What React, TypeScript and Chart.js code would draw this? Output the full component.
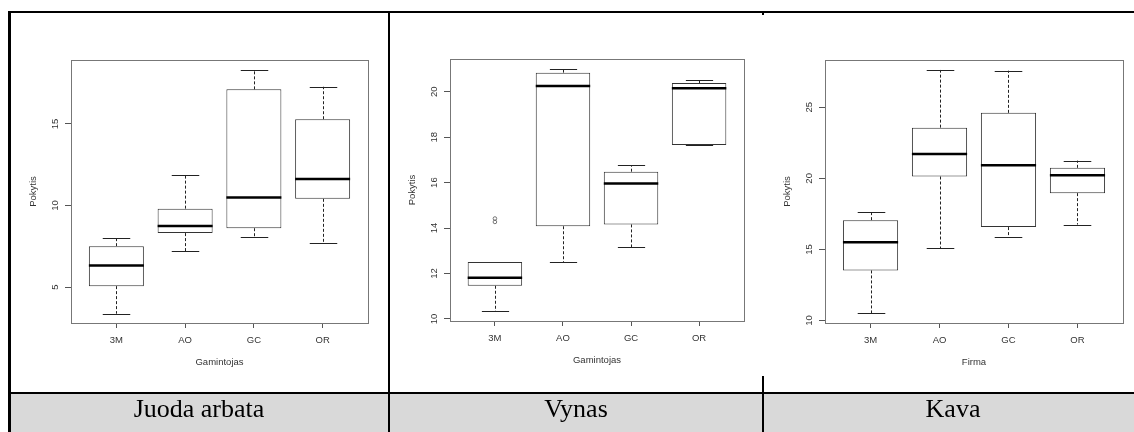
import React, { useEffect, useRef } from 'react';
import { Chart, registerables } from 'chart.js';

Chart.register(...registerables);

// ---------- data ----------
const categories = ['3M', 'AO', 'GC', 'OR'];
const categoryPositions = [1, 2, 3, 4];

// Juoda arbata
const teaWhiskerLow = [3.37, 7.2, 8.08, 7.71];
const teaQ1 = [5.06, 8.31, 8.61, 10.41];
const teaMedian = [6.32, 8.75, 10.49, 11.63];
const teaQ3 = [7.51, 9.81, 17.12, 15.29];
const teaWhiskerHigh = [7.98, 11.9, 18.29, 17.28];
const teaOutliers: number[][] = [[], [], [], []];
const teaYTicks = [5, 10, 15];

// Vynas
const wineWhiskerLow = [10.35, 12.49, 13.16, 17.65];
const wineQ1 = [11.46, 14.08, 14.16, 17.65];
const wineMedian = [11.81, 20.25, 15.96, 20.15];
const wineQ3 = [12.51, 20.84, 16.48, 20.38];
const wineWhiskerHigh = [12.51, 20.98, 16.77, 20.52];
const wineOutliers: number[][] = [[14.27, 14.42], [], [], []];
const wineYTicks = [10, 12, 14, 16, 18, 20];

// Kava
const coffeeWhiskerLow = [10.49, 15.09, 15.84, 16.75];
const coffeeQ1 = [13.52, 20.13, 16.57, 18.96];
const coffeeMedian = [15.51, 21.72, 20.93, 20.22];
const coffeeQ3 = [17.06, 23.57, 24.61, 20.74];
const coffeeWhiskerHigh = [17.64, 27.63, 27.58, 21.25];
const coffeeOutliers: number[][] = [[], [], [], []];
const coffeeYTicks = [10, 15, 20, 25];

const captions = ['Juoda arbata', 'Vynas', 'Kava'];
const xTitles = ['Gamintojas', 'Gamintojas', 'Firma'];
const yTitle = 'Pokytis';

// ---------- layout ----------
const AXW = 30;
const AXH = 30;
const TEXT_FONT = '9.5px "Liberation Sans", Arial, sans-serif';
const TEXT_COLOR = '#333';

type Spec = {
  low: number[];
  q1: number[];
  med: number[];
  q3: number[];
  high: number[];
  outliers: number[][];
  yTicks: number[];
  yMin: number;
  yMax: number;
  xTitle: string;
  canvas: { left: number; top: number; w: number; h: number };
  plot: { left: number; top: number; right: number; bottom: number };
};

const specs: Spec[] = [
  {
    low: teaWhiskerLow, q1: teaQ1, med: teaMedian, q3: teaQ3, high: teaWhiskerHigh,
    outliers: teaOutliers, yTicks: teaYTicks, yMin: 2.8, yMax: 18.92, xTitle: xTitles[0],
    canvas: { left: 10, top: 14, w: 378, h: 378 },
    plot: { left: 71, top: 60, right: 368, bottom: 323 },
  },
  {
    low: wineWhiskerLow, q1: wineQ1, med: wineMedian, q3: wineQ3, high: wineWhiskerHigh,
    outliers: wineOutliers, yTicks: wineYTicks, yMin: 9.91, yMax: 21.44, xTitle: xTitles[1],
    canvas: { left: 390, top: 14, w: 372, h: 378 },
    plot: { left: 450, top: 59, right: 744, bottom: 321 },
  },
  {
    low: coffeeWhiskerLow, q1: coffeeQ1, med: coffeeMedian, q3: coffeeQ3, high: coffeeWhiskerHigh,
    outliers: coffeeOutliers, yTicks: coffeeYTicks, yMin: 9.82, yMax: 28.33, xTitle: xTitles[2],
    canvas: { left: 764, top: 14, w: 370, h: 378 },
    plot: { left: 825, top: 60, right: 1123, bottom: 323 },
  },
];

function BoxChart({ spec }: { spec: Spec }) {
  const ref = useRef<HTMLCanvasElement | null>(null);

  useEffect(() => {
    const canvas = ref.current;
    if (!canvas) return;
    const { canvas: c, plot: p } = spec;

    const boxPlugin = {
      id: 'rBoxplot',
      beforeDatasetsDraw(chart: any) {
        const ctx = chart.ctx;
        const xs = chart.scales.x;
        const ys = chart.scales.y;
        ctx.save();
        ctx.strokeStyle = '#222';
        ctx.lineWidth = 1;
        categoryPositions.forEach((pos, i) => {
          const x = Math.round(xs.getPixelForValue(pos)) + 0.5;
          const capHalf = xs.getPixelForValue(pos + 0.2) - xs.getPixelForValue(pos);
          const yLow = ys.getPixelForValue(spec.low[i]);
          const yQ1 = ys.getPixelForValue(spec.q1[i]);
          const yQ3 = ys.getPixelForValue(spec.q3[i]);
          const yHigh = ys.getPixelForValue(spec.high[i]);
          ctx.setLineDash([3, 2]);
          ctx.beginPath();
          ctx.moveTo(x, yQ3);
          ctx.lineTo(x, yHigh);
          ctx.moveTo(x, yQ1);
          ctx.lineTo(x, yLow);
          ctx.stroke();
          ctx.setLineDash([]);
          ctx.beginPath();
          const yh = Math.round(yHigh) + 0.5;
          const yl = Math.round(yLow) + 0.5;
          ctx.moveTo(x - capHalf, yh);
          ctx.lineTo(x + capHalf, yh);
          ctx.moveTo(x - capHalf, yl);
          ctx.lineTo(x + capHalf, yl);
          ctx.stroke();
        });
        ctx.restore();
      },
      afterDatasetsDraw(chart: any) {
        const ctx = chart.ctx;
        const xs = chart.scales.x;
        const ys = chart.scales.y;
        const a = chart.chartArea;
        ctx.save();
        ctx.strokeStyle = '#000';
        ctx.lineWidth = 2.5;
        categoryPositions.forEach((pos, i) => {
          const x0 = xs.getPixelForValue(pos - 0.4);
          const x1 = xs.getPixelForValue(pos + 0.4);
          const y = ys.getPixelForValue(spec.med[i]);
          ctx.beginPath();
          ctx.moveTo(x0, y);
          ctx.lineTo(x1, y);
          ctx.stroke();
        });
        ctx.strokeStyle = '#777';
        ctx.lineWidth = 1;
        ctx.strokeRect(
          Math.round(a.left) + 0.5,
          Math.round(a.top) + 0.5,
          Math.round(a.right - a.left),
          Math.round(a.bottom - a.top)
        );
        ctx.restore();
      },
      afterDraw(chart: any) {
        const ctx = chart.ctx;
        const xs = chart.scales.x;
        const ys = chart.scales.y;
        const a = chart.chartArea;
        ctx.save();
        ctx.font = TEXT_FONT;
        ctx.fillStyle = TEXT_COLOR;
        ctx.textAlign = 'center';
        ctx.textBaseline = 'middle';
        xs.ticks.forEach((t: any) => {
          const idx = categoryPositions.indexOf(t.value);
          if (idx < 0) return;
          ctx.fillText(categories[idx], xs.getPixelForValue(t.value), a.bottom + 17);
        });
        ctx.fillText(spec.xTitle, (a.left + a.right) / 2, a.bottom + 39);
        ys.ticks.forEach((t: any) => {
          ctx.save();
          ctx.translate(a.left - 16, ys.getPixelForValue(t.value));
          ctx.rotate(-Math.PI / 2);
          ctx.fillText(String(t.value), 0, 0);
          ctx.restore();
        });
        ctx.save();
        ctx.translate(a.left - 38, (a.top + a.bottom) / 2);
        ctx.rotate(-Math.PI / 2);
        ctx.fillText(yTitle, 0, 0);
        ctx.restore();
        ctx.restore();
      },
    };

    const outlierPoints: { x: number; y: number }[] = [];
    spec.outliers.forEach((list, i) => {
      list.forEach((v) => outlierPoints.push({ x: categoryPositions[i], y: v }));
    });

    const chart = new Chart(canvas, {
      type: 'bar',
      data: {
        datasets: [
          {
            type: 'bar',
            data: categoryPositions.map((x, i) => ({ x, y: [spec.q1[i], spec.q3[i]] })) as any,
            backgroundColor: '#ffffff',
            borderColor: '#333',
            borderWidth: 1,
            borderSkipped: false,
            barPercentage: 0.8,
            categoryPercentage: 1,
          },
          {
            type: 'scatter',
            data: outlierPoints as any,
            pointRadius: 1.8,
            pointBorderWidth: 0.8,
            borderColor: '#555',
            backgroundColor: 'rgba(0,0,0,0)',
            showLine: false,
          } as any,
        ],
      },
      options: {
        animation: false,
        responsive: false,
        maintainAspectRatio: false,
        devicePixelRatio: 1,
        events: [],
        layout: {
          padding: {
            left: p.left - c.left - AXW,
            top: p.top - c.top,
            right: c.left + c.w - p.right,
            bottom: c.top + c.h - p.bottom - AXH,
          },
        },
        plugins: {
          legend: { display: false },
          tooltip: { enabled: false },
        },
        scales: {
          x: {
            type: 'linear',
            min: 0.34,
            max: 4.66,
            offset: false,
            afterBuildTicks: (s: any) => {
              s.ticks = categoryPositions.map((v) => ({ value: v }));
            },
            afterFit: (s: any) => {
              s.height = AXH;
            },
            grid: { offset: false, drawOnChartArea: false, drawTicks: true, tickLength: 5, color: '#555', lineWidth: 1 },
            border: { display: false },
            ticks: { display: false },
          },
          y: {
            type: 'linear',
            min: spec.yMin,
            max: spec.yMax,
            afterBuildTicks: (s: any) => {
              s.ticks = spec.yTicks.map((v) => ({ value: v }));
            },
            afterFit: (s: any) => {
              s.width = AXW;
            },
            grid: { drawOnChartArea: false, drawTicks: true, tickLength: 6, color: '#555', lineWidth: 1 },
            border: { display: false },
            ticks: { display: false },
          },
        },
      } as any,
      plugins: [boxPlugin],
    });

    return () => chart.destroy();
  }, [spec]);

  return (
    <canvas
      ref={ref}
      width={spec.canvas.w}
      height={spec.canvas.h}
      style={{
        position: 'absolute',
        left: spec.canvas.left,
        top: spec.canvas.top,
        width: spec.canvas.w,
        height: spec.canvas.h,
      }}
    />
  );
}

const black = '#000';

export default function App() {
  const captionCells = [
    { left: 10, width: 378 },
    { left: 390, width: 372 },
    { left: 764, width: 378 },
  ];
  const abs = (s: React.CSSProperties): React.CSSProperties => ({ position: 'absolute', ...s });
  return (
    <div style={abs({ left: 0, top: 0, width: 1134, height: 432, background: '#fff', overflow: 'hidden' })}>
      <div style={abs({ left: 10, top: 394, width: 1124, height: 38, background: '#d9d9d9' })} />
      {specs.map((s, i) => (
        <BoxChart key={i} spec={s} />
      ))}
      <div style={abs({ left: 8, top: 11, width: 1126, height: 2, background: black })} />
      <div style={abs({ left: 8, top: 11, width: 3, height: 421, background: black })} />
      <div style={abs({ left: 388, top: 11, width: 2, height: 421, background: black })} />
      <div style={abs({ left: 762, top: 11, width: 2, height: 4, background: black })} />
      <div style={abs({ left: 762, top: 376, width: 2, height: 56, background: black })} />
      <div style={abs({ left: 8, top: 392, width: 1126, height: 2, background: black })} />
      {captions.map((t, i) => (
        <div
          key={t}
          style={abs({
            left: captionCells[i].left,
            top: 394,
            width: captionCells[i].width,
            height: 38,
            textAlign: 'center',
            fontFamily: '"Liberation Serif", "Times New Roman", serif',
            fontSize: 26,
            lineHeight: '30px',
            color: '#000',
          })}
        >
          {t}
        </div>
      ))}
    </div>
  );
}
